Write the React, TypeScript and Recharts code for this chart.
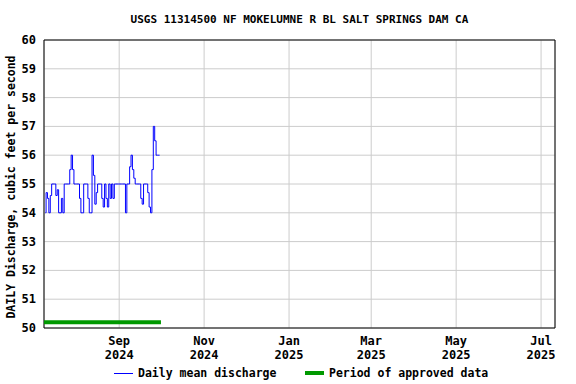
import React from "react";
import { LineChart, Line, XAxis, YAxis, CartesianGrid, ReferenceArea } from "recharts";

const TITLE = "USGS 11314500 NF MOKELUMNE R BL SALT SPRINGS DAM CA";
const Y_LABEL = "DAILY Discharge, cubic feet per second";
const START_DATE = [2024, 6, 10]; // Jul 10, 2024
const DOMAIN_START = [2024, 6, 9];
const DOMAIN_END = [2025, 6, 11];
const TICK_DATES = [
  [2024, 8, 1],
  [2024, 10, 1],
  [2025, 0, 1],
  [2025, 2, 1],
  [2025, 4, 1],
  [2025, 6, 1],
];
const MONTHS = ["Jan", "Feb", "Mar", "Apr", "May", "Jun", "Jul", "Aug", "Sep", "Oct", "Nov", "Dec"];
const Y_TICKS = [50, 51, 52, 53, 54, 55, 56, 57, 58, 59, 60];

const DISCHARGE = [
  54, 54.7, 54.5, 54, 54.6, 55, 55, 55, 54.6, 54.8,
  54, 54, 54.5, 54, 55, 55, 55, 55, 55.5, 56,
  55.5, 55, 55, 55, 55, 54.5, 54, 54, 55, 55,
  55, 54.5, 54, 54, 56, 55.3, 54.3, 54.7, 55, 55,
  55, 54.5, 54.2, 55, 54.5, 54.2, 55, 54.5, 55, 54.5,
  55, 55, 55, 55, 55, 55, 55, 55, 54, 55,
  55, 55.6, 56, 55.5, 55.2, 55, 55, 55, 55, 54.5,
  54.3, 55, 55, 55, 54.7, 54.2, 54, 55.5, 57, 56.5,
  56, 56, 56,
];
const APPROVED_START = [2024, 6, 9];
const APPROVED_END = [2024, 9, 1];
const APPROVED_LEVEL = 50.2;

const DAY = 86400000;
const ts = (d: number[]) => Date.UTC(d[0], d[1], d[2]);
const t0 = ts(START_DATE);
const dischargeData = DISCHARGE.map((v, i) => ({ t: t0 + i * DAY, v }));
const approvedData = [
  { t: ts(APPROVED_START), v: APPROVED_LEVEL },
  { t: ts(APPROVED_END), v: APPROVED_LEVEL },
];
const xTicks = TICK_DATES.map(ts);

const FONT = "'DejaVu Sans Mono', monospace";

const XTick = (props: any) => {
  const { x, y, payload } = props;
  const d = new Date(payload.value);
  return (
    <g>
      <text x={x} y={y + 9} textAnchor="middle" fontFamily={FONT} fontWeight="bold" fontSize={12} fill="#000">
        {MONTHS[d.getUTCMonth()]}
      </text>
      <text x={x} y={y + 23} textAnchor="middle" fontFamily={FONT} fontWeight="bold" fontSize={12} fill="#000">
        {d.getUTCFullYear()}
      </text>
    </g>
  );
};

const YTick = (props: any) => {
  const { x, y, payload } = props;
  return (
    <text x={x} y={y + 4} textAnchor="end" fontFamily={FONT} fontWeight="bold" fontSize={12} fill="#000">
      {payload.value}
    </text>
  );
};

export default function App() {
  return (
    <div style={{ position: "absolute", left: 0, top: 0, width: 576, height: 384, background: "#fff" }}>
      <div
        style={{
          position: "absolute",
          left: 44,
          width: 511,
          top: 13,
          textAlign: "center",
          fontFamily: FONT,
          fontWeight: "bold",
          fontSize: 11,
        }}
      >
        {TITLE}
      </div>
      <LineChart width={576} height={384} data={dischargeData} margin={{ top: 40, right: 21, bottom: 0, left: 0 }}>
        <CartesianGrid stroke="#cccccc" strokeWidth={1} />
        <XAxis
          dataKey="t"
          type="number"
          domain={[ts(DOMAIN_START), ts(DOMAIN_END)]}
          ticks={xTicks}
          tick={<XTick />}
          tickLine={false}
          axisLine={false}
          height={56}
          interval={0}
          allowDataOverflow
        />
        <YAxis
          type="number"
          domain={[50, 60]}
          ticks={Y_TICKS}
          tick={<YTick />}
          tickLine={false}
          axisLine={false}
          width={44}
          tickMargin={2}
          interval={0}
        />
        <Line
          data={approvedData}
          dataKey="v"
          stroke="#009900"
          strokeWidth={4}
          dot={false}
          isAnimationActive={false}
        />
        <Line
          data={dischargeData}
          dataKey="v"
          stroke="#0000ff"
          strokeWidth={1}
          dot={false}
          type="step"
          isAnimationActive={false}
        />
        <ReferenceArea
          x1={ts(DOMAIN_START)}
          x2={ts(DOMAIN_END)}
          y1={50}
          y2={60}
          fill="none"
          stroke="#000"
          strokeWidth={1}
          ifOverflow="visible"
        />
      </LineChart>
      <div
        style={{
          position: "absolute",
          left: 0,
          top: 187,
          width: 0,
          height: 0,
        }}
      >
        <div
          style={{
            position: "absolute",
            left: 11,
            top: 0,
            transform: "translate(-50%, -50%) rotate(-90deg)",
            whiteSpace: "nowrap",
            fontFamily: FONT,
            fontWeight: "bold",
            fontSize: 11.5,
          }}
        >
          {Y_LABEL}
        </div>
      </div>
      <div
        style={{
          position: "absolute",
          top: 366,
          left: 0,
          width: 576,
          height: 16,
          fontFamily: FONT,
          fontWeight: "bold",
          fontSize: 11.5,
          lineHeight: "14px",
        }}
      >
        <div style={{ position: "absolute", left: 114, top: 7, width: 19, height: 1, background: "#0000ff" }} />
        <div style={{ position: "absolute", left: 138, top: 0, whiteSpace: "nowrap" }}>Daily mean discharge</div>
        <div style={{ position: "absolute", left: 305, top: 5, width: 19, height: 4, background: "#009900" }} />
        <div style={{ position: "absolute", left: 329, top: 0, whiteSpace: "nowrap" }}>Period of approved data</div>
      </div>
    </div>
  );
}
